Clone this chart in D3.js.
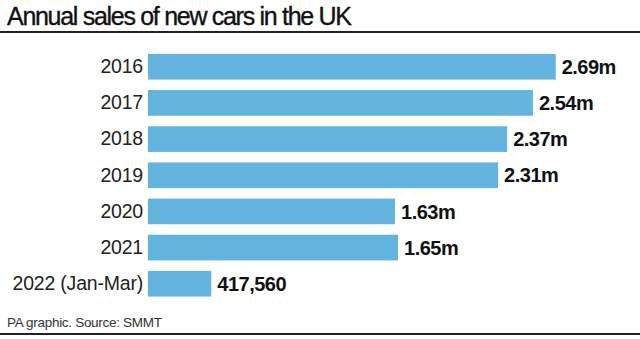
<!DOCTYPE html>
<html><head><meta charset="utf-8">
<script src="https://cdn.jsdelivr.net/npm/d3@7"></script>
<style>html,body{margin:0;padding:0;background:#fff;}svg{display:block;}</style>
</head><body>
<script>
const categories = ["2016","2017","2018","2019","2020","2021","2022 (Jan-Mar)"];
const values = [2690000, 2540000, 2370000, 2310000, 1630000, 1650000, 417560];
const valueLabels = ["2.69m","2.54m","2.37m","2.31m","1.63m","1.65m","417,560"];
const title = "Annual sales of new cars in the UK";
const source = "PA graphic. Source: SMMT";

const W = 640, H = 339;
const font = "'Liberation Sans', Arial, sans-serif";
const svg = d3.select("body").append("svg").attr("width", W).attr("height", H);

const t = svg.append("text").attr("x", 7).attr("y", 24.5).text(title)
  .attr("font-family", font).attr("font-size", 25).attr("fill", "#111")
  .attr("stroke", "#111").attr("stroke-width", 0.35);
// fit title to the reference width
const tw = t.node().getComputedTextLength();
t.attr("textLength", 345).attr("lengthAdjust", "spacing");

svg.append("rect").attr("x", 0).attr("y", 31).attr("width", W).attr("height", 2).attr("fill", "#222");

const x = d3.scaleLinear().domain([0, 2690000]).range([148, 555.7]);
const y = d3.scaleBand().domain(categories).range([48.5, 302]).paddingInner(0.29).paddingOuter(0.15);

const g = svg.append("g");
g.selectAll("rect.bar").data(values).join("rect").attr("class","bar")
  .attr("x", x(0)).attr("y", (d,i) => y(categories[i]))
  .attr("width", d => x(d) - x(0)).attr("height", y.bandwidth())
  .attr("fill", "#63b4df");

const yAxis = d3.axisLeft(y).tickSize(0).tickPadding(5);
const ax = svg.append("g").attr("transform", `translate(${x(0)},0)`).call(yAxis);
ax.select(".domain").remove();
ax.selectAll("text").attr("font-family", font).attr("font-size", 19.5).attr("fill", "#222")
  .attr("letter-spacing", -0.2);

g.selectAll("text.val").data(values).join("text").attr("class","val")
  .attr("x", d => x(d) + 6).attr("y", (d,i) => y(categories[i]) + y.bandwidth()/2)
  .attr("dy", "0.36em").text((d,i) => valueLabels[i])
  .attr("font-family", font).attr("font-size", 20).attr("font-weight", "bold").attr("fill", "#111")
  .attr("letter-spacing", -0.5);

svg.append("text").attr("x", 7).attr("y", 327).text(source)
  .attr("font-family", font).attr("font-size", 13.5).attr("fill", "#333").attr("letter-spacing", -0.3);
svg.append("rect").attr("x", 0).attr("y", 333).attr("width", W).attr("height", 2).attr("fill", "#222");
</script>
</body></html>
